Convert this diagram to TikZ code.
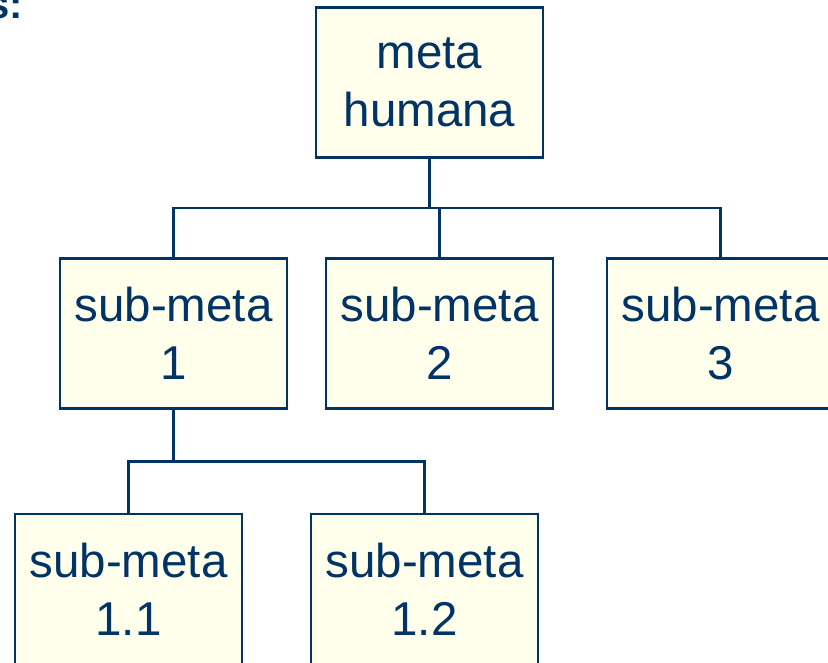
\documentclass[tikz,border=0pt]{standalone}
\usepackage{fontspec}
\setmainfont{Liberation Sans}
\definecolor{navy}{HTML}{003366}
\definecolor{cream}{HTML}{FFFFEB}
\tikzset{
  goal/.style={draw=navy, fill=cream, line width=2.2pt, rectangle,
    minimum width=227pt, minimum height=150pt, inner sep=0pt,
    align=center, text=navy, font=\fontsize{47.5}{58}\selectfont},
  link/.style={draw=navy, line width=2.2pt}
}
\begin{document}
\begin{tikzpicture}[x=1pt,y=-1pt]
  \useasboundingbox (0,0) rectangle (828,663);
  \clip (0,0) rectangle (828,663);
  \fill[white] (0,0) rectangle (828,663);

  % heading fragment
  \node[anchor=base west, inner sep=0pt, text=navy,
        font=\fontsize{40}{46}\selectfont\bfseries] (head) at (-13,19) {s:};

  % goal tree
  \node[goal] (top) at (429.5,82.5) {meta\\humana};
  \node[goal] (s1)  at (173.5,333.5) {sub-meta\\1};
  \node[goal] (s2)  at (439.5,333.5) {sub-meta\\2};
  \node[goal] (s3)  at (720.5,333.5) {sub-meta\\3};
  \node[goal] (s11) at (128.5,589) {sub-meta\\1.1};
  \node[goal] (s12) at (424.5,589) {sub-meta\\1.2};

  % junctions
  \coordinate (j1) at (429.5,208);
  \coordinate (j2) at (173.5,461.5);

  % connectors
  \draw[link] (top.south) -- (j1);
  \draw[link] (s1.north) |- (j1);
  \draw[link] (s3.north) |- (j1);
  \draw[link] (s2.north) -- (s2.north |- j1);
  \draw[link] (s1.south) -- (j2);
  \draw[link] (s11.north) |- (j2);
  \draw[link] (s12.north) |- (j2);
\end{tikzpicture}
\end{document}
